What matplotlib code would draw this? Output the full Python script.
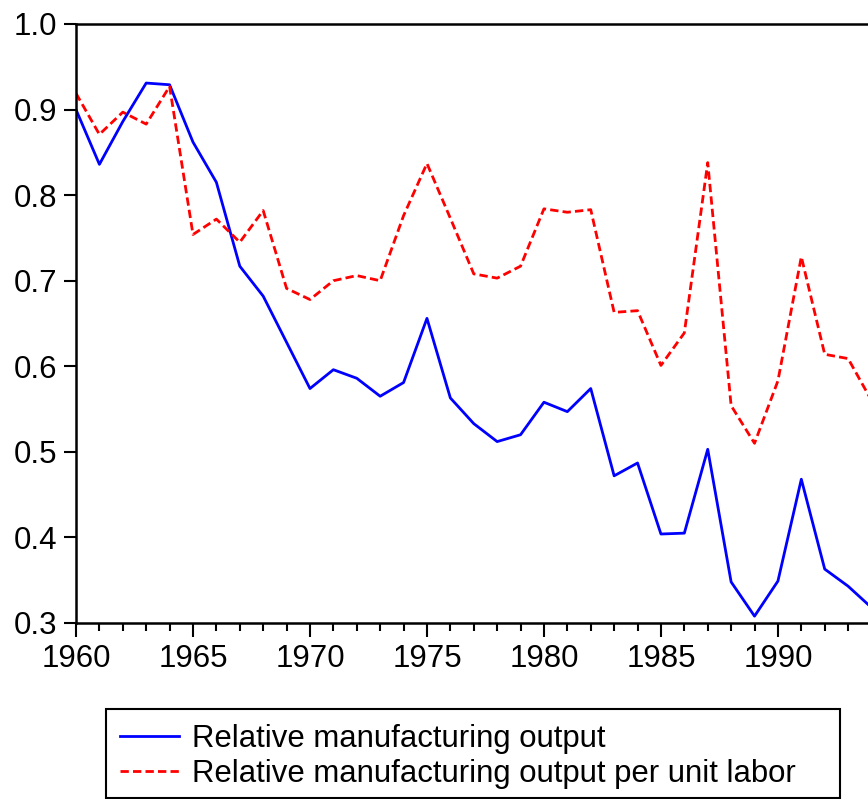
import matplotlib
matplotlib.use("Agg")
import matplotlib.pyplot as plt
from matplotlib.ticker import MultipleLocator
from matplotlib.patches import Rectangle

plt.rcParams['font.family'] = ['Liberation Sans', 'DejaVu Sans']

years = list(range(1960, 1995))
output = [0.900, 0.836, 0.886, 0.931, 0.929, 0.862, 0.815, 0.717, 0.682, 0.628,
          0.574, 0.596, 0.586, 0.565, 0.581, 0.656, 0.563, 0.533, 0.512, 0.520,
          0.558, 0.547, 0.574, 0.472, 0.487, 0.404, 0.405, 0.503, 0.348, 0.308,
          0.349, 0.468, 0.363, 0.343, 0.318]
output_per_labor = [0.919, 0.871, 0.897, 0.883, 0.927, 0.754, 0.772, 0.745, 0.782, 0.691,
                    0.678, 0.700, 0.706, 0.700, 0.776, 0.837, 0.773, 0.708, 0.703, 0.717,
                    0.784, 0.780, 0.783, 0.663, 0.665, 0.601, 0.639, 0.838, 0.554, 0.510,
                    0.583, 0.728, 0.614, 0.609, 0.560]
labels = ["Relative manufacturing output",
          "Relative manufacturing output per unit labor"]

W, H = 868, 799
fig = plt.figure(figsize=(W / 100, H / 100), dpi=100)
left_px, right_px, top_px, bot_px = 76, 868, 24, 623
ax = fig.add_axes([left_px / W, 1 - bot_px / H, (right_px - left_px) / W, (bot_px - top_px) / H])

l1, = ax.plot(years, output, color='#0000FF', lw=2.0, label=labels[0])
l2, = ax.plot(years, output_per_labor, color='#FF0000', lw=2.0, dashes=(3, 1.5), label=labels[1])

ax.set_xlim(1960, 1993.85)
ax.set_ylim(0.3, 1.0)
ax.xaxis.set_major_locator(MultipleLocator(5))
ax.xaxis.set_minor_locator(MultipleLocator(1))
ax.yaxis.set_major_locator(MultipleLocator(0.1))
ax.yaxis.set_major_formatter(plt.FuncFormatter(lambda v, p: f"{v:.1f}"))

for s in ['left', 'bottom', 'top']:
    ax.spines[s].set_linewidth(1.8)
    ax.spines[s].set_color('black')
ax.spines['right'].set_visible(False)

ax.tick_params(axis='both', which='major', direction='out', labelsize=22.5, width=1.5, color='black')
ax.tick_params(axis='y', which='major', length=8.5, pad=5, left=True, right=False)
ax.tick_params(axis='x', which='major', length=10, pad=5, bottom=True, top=False)
ax.tick_params(axis='x', which='minor', length=5.5, width=1.5, direction='out', bottom=True, top=False)

leg = fig.legend(handles=[l1, l2], labels=labels, loc='upper left',
                 bbox_to_anchor=(120 / W, 1 - 724 / H), bbox_transform=fig.transFigure,
                 fontsize=22.4, frameon=False,
                 handlelength=1.9, handletextpad=0.4, labelspacing=0.16,
                 borderpad=0.0, borderaxespad=0)
box = Rectangle((105.5 / W, 1 - 798 / H), (840 - 105.5) / W, (798 - 709) / H,
                transform=fig.transFigure, fill=False, edgecolor='black', linewidth=1.5)
fig.add_artist(box)

fig.savefig("out.png", dpi=100)
